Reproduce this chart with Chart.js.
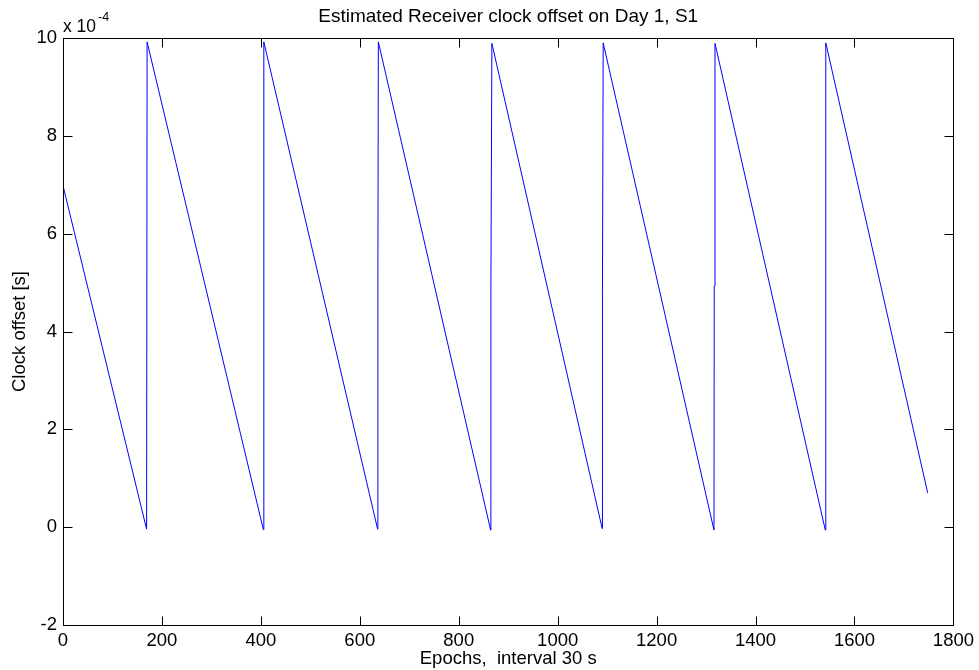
<!DOCTYPE html>
<html><head><meta charset="utf-8">
<script src="https://cdn.jsdelivr.net/npm/chart.js@4/dist/chart.umd.min.js"></script>
<style>html,body{margin:0;padding:0;background:#fff;}canvas{display:block;}</style>
</head><body>
<canvas id="c" width="979" height="670"></canvas>
<script>
const titleText = "Estimated Receiver clock offset on Day 1, S1";
const xLabel = "Epochs,  interval 30 s";
const yLabel = "Clock offset [s]";
const yExponent = "-4";
// epochs (interval 30 s)
const epochs  = [0, 169, 170, 405, 406, 636, 636.5, 637.5, 864.5, 865, 867, 1090, 1090.5, 1092, 1316, 1316.5, 1318, 1541, 1542, 1748];
// clock offset in units of 1e-4 s
const offsets = [6.98, -0.04, 9.92, -0.05, 9.92, -0.04, 4.97, 9.92, -0.06, 4.91, 9.89, -0.03, 4.8, 9.9, -0.06, 4.93, 9.89, -0.06, 9.9, 0.70];
const xTicks = [0, 200, 400, 600, 800, 1000, 1200, 1400, 1600, 1800];
const yTicks = [-2, 0, 2, 4, 6, 8, 10];

const FONT = 'Arial, "Liberation Sans", sans-serif';
const points = epochs.map((e, i) => ({x: e, y: offsets[i]}));

const matlabAxes = {
  id: 'matlabAxes',
  afterDraw(chart) {
    const ctx = chart.ctx;
    const a = chart.chartArea;
    const xs = chart.scales.x, ys = chart.scales.y;
    const L = Math.round(a.left) + 0.5, R = Math.round(a.right) + 0.5;
    const T = Math.round(a.top) + 0.5, B = Math.round(a.bottom) + 0.5;
    ctx.save();
    ctx.strokeStyle = '#000';
    ctx.lineWidth = 1;
    ctx.strokeRect(L, T, R - L, B - T);
    const tl = 9;
    ctx.beginPath();
    xTicks.forEach(v => {
      const px = Math.round(xs.getPixelForValue(v)) + 0.5;
      ctx.moveTo(px, B); ctx.lineTo(px, B - tl);
      ctx.moveTo(px, T); ctx.lineTo(px, T + tl);
    });
    yTicks.forEach(v => {
      const py = Math.round(ys.getPixelForValue(v)) + 0.5;
      ctx.moveTo(L, py); ctx.lineTo(L + tl, py);
      ctx.moveTo(R, py); ctx.lineTo(R - tl, py);
    });
    ctx.stroke();
    ctx.fillStyle = '#000';
    // title
    ctx.font = '19px ' + FONT;
    ctx.textAlign = 'center';
    ctx.textBaseline = 'middle';
    ctx.fillText(titleText, (a.left + a.right) / 2, 17);
    // x label
    ctx.font = '18.5px ' + FONT;
    ctx.fillText(xLabel, (a.left + a.right) / 2, 659);
    // y label
    ctx.save();
    ctx.translate(20, (a.top + a.bottom) / 2);
    ctx.rotate(-Math.PI / 2);
    ctx.fillText(yLabel, 0, 0);
    ctx.restore();
    // exponent
    ctx.textAlign = 'left';
    ctx.textBaseline = 'alphabetic';
    ctx.font = '17.5px ' + FONT;
    ctx.fillText('x 10', 63, 32);
    ctx.font = '12.5px ' + FONT;
    ctx.fillText(yExponent, 98, 21);
    ctx.restore();
  }
};

new Chart(document.getElementById('c'), {
  type: 'scatter',
  data: {
    datasets: [{
      data: points,
      showLine: true,
      borderColor: '#0000ff',
      backgroundColor: '#0000ff',
      borderWidth: 1,
      pointRadius: 0,
      tension: 0
    }]
  },
  options: {
    responsive: false,
    animation: false,
    events: [],
    layout: { padding: { left: 0, right: 23, top: 38, bottom: 0 } },
    plugins: { legend: { display: false }, title: { display: false }, tooltip: { enabled: false } },
    scales: {
      x: {
        type: 'linear', min: 0, max: 1800,
        afterBuildTicks: s => { s.ticks = xTicks.map(v => ({value: v})); },
        afterFit: s => { s.height = 45; },
        grid: { display: false, drawTicks: false },
        border: { display: false },
        ticks: { color: '#000', font: { family: FONT, size: 18.5 }, padding: 5, maxRotation: 0, autoSkip: false,
                 callback: v => String(v) }
      },
      y: {
        type: 'linear', min: -2, max: 10,
        afterBuildTicks: s => { s.ticks = yTicks.map(v => ({value: v})); },
        afterFit: s => { s.width = 63; },
        grid: { display: false, drawTicks: false },
        border: { display: false },
        ticks: { color: '#000', font: { family: FONT, size: 18.5 }, padding: 6, autoSkip: false,
                 callback: v => String(v) }
      }
    }
  },
  plugins: [matlabAxes]
});
</script>
</body></html>
